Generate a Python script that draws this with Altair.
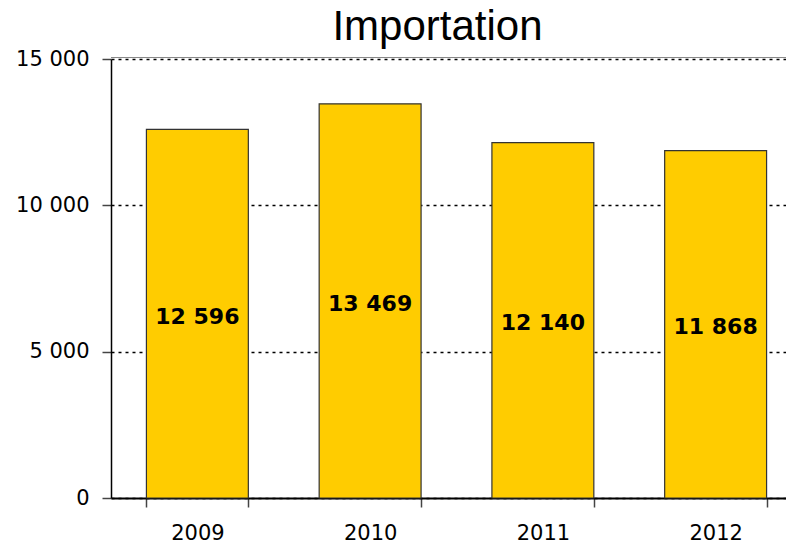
import altair as alt
import pandas as pd

years = ["2009", "2010", "2011", "2012"]
values = [12596, 13469, 12140, 11868]
labels = ["12 596", "13 469", "12 140", "11 868"]
y_ticks = [0, 5000, 10000, 15000]

df = pd.DataFrame({"year": years, "value": values, "label": labels})

FONT = "DejaVu Sans"

x_enc = alt.X(
    "year:N",
    sort=years,
    scale=alt.Scale(range=[0, 691], paddingInner=0.41, paddingOuter=0.205),
    axis=alt.Axis(
        title=None, tickBand="extent", labelAngle=0, labelFont=FONT,
        labelFontSize=21, labelColor="black", labelPadding=15, tickSize=9,
        tickColor="#444", tickWidth=1.5, domainColor="black", domainWidth=2,
        grid=False,
    ),
)
y_enc = alt.Y(
    "value:Q",
    scale=alt.Scale(domain=[0, 15000], nice=False),
    axis=alt.Axis(
        title=None, values=y_ticks,
        labelExpr="replace(format(datum.value, ','), ',', ' ')",
        labelFont=FONT, labelFontSize=21, labelColor="black", labelPadding=13,
        tickSize=9, tickColor="#444", tickWidth=1.5, domainColor="black",
        domainWidth=1.5, grid=True, gridDash=[3, 4], gridColor="black",
        gridWidth=1.5, gridOpacity=1,
    ),
)

base = alt.Chart(df)

bars = base.mark_bar(color="#FFCC00", stroke="#333", strokeWidth=1.2).encode(
    x=x_enc, y=y_enc
)

text = base.transform_calculate(mid="datum.value / 2").mark_text(
    font=FONT, fontSize=22, fontWeight="bold", color="black",
    baseline="middle", dy=3,
).encode(x=alt.X("year:N", sort=years), y=alt.Y("mid:Q"), text="label:N")

top_rule = alt.Chart(pd.DataFrame({"top": [15000]})).mark_rule(
    color="#888", strokeWidth=1, yOffset=-1.5
).encode(y="top:Q")

chart = alt.layer(bars, text, top_rule).properties(
    width=675,
    height=439,
    autosize=alt.AutoSizeParams(type="none"),
    padding={"left": 103, "top": 51, "right": 0, "bottom": 46},
    title=alt.TitleParams(
        "Importation", font="Liberation Sans", fontSize=42,
        fontWeight="normal", color="black", anchor="middle",
        frame="group", dx=-11, dy=10, offset=9,
    ),
).configure_view(stroke=None)

chart.save("out.html", embed_options={"renderer": "svg", "actions": False})
